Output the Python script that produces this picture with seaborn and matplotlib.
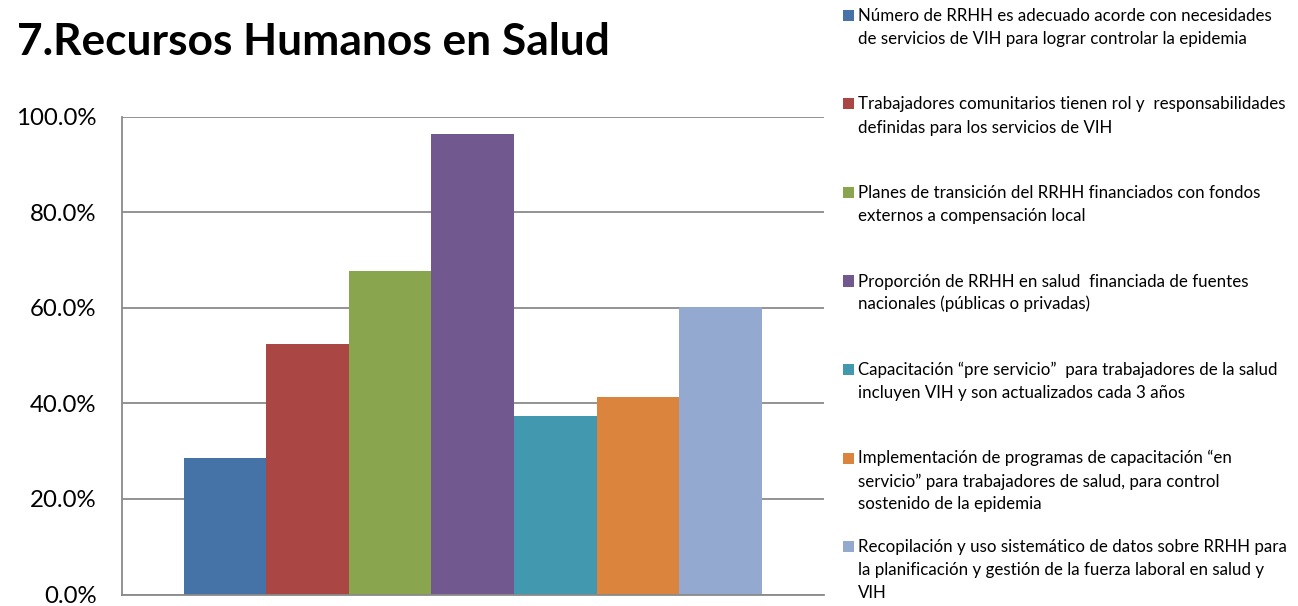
import numpy as np
import pandas as pd
import matplotlib
matplotlib.use('Agg')
import matplotlib.pyplot as plt
from matplotlib.patches import Rectangle
from matplotlib.ticker import FuncFormatter
import seaborn as sns

# ------------------------------------------------------------------
# Datos
# ------------------------------------------------------------------
titulo = "7.Recursos Humanos en Salud"

indicadores = [
    "Número de RRHH es adecuado acorde con necesidades\nde servicios de VIH para lograr controlar la epidemia",
    "Trabajadores comunitarios tienen rol y  responsabilidades\ndefinidas para los servicios de VIH",
    "Planes de transición del RRHH financiados con fondos\nexternos a compensación local",
    "Proporción de RRHH en salud  financiada de fuentes\nnacionales (públicas o privadas)",
    "Capacitación “pre servicio”  para trabajadores de la salud\nincluyen VIH y son actualizados cada 3 años",
    "Implementación de programas de capacitación “en\nservicio” para trabajadores de salud, para control\nsostenido de la epidemia",
    "Recopilación y uso sistemático de datos sobre RRHH para\nla planificación y gestión de la fuerza laboral en salud y\nVIH",
]
valores = [0.286, 0.525, 0.677, 0.964, 0.374, 0.413, 0.602]
colores = ['#4572A7', '#AA4643', '#89A54E', '#71588F', '#4198AF', '#DB843D', '#93A9CF']
yticks = [0.0, 0.2, 0.4, 0.6, 0.8, 1.0]

df = pd.DataFrame({'grupo': [''] * len(valores),
                   'indicador': indicadores,
                   'valor': valores})

# ------------------------------------------------------------------
# Estilo
# ------------------------------------------------------------------
sns.set_style('white')
plt.rcParams['font.family'] = ['Lato', 'DejaVu Sans']

W, H = 1298, 606
fig = plt.figure(figsize=(W / 100, H / 100), dpi=100)
fig.patch.set_facecolor('white')

# ejes en pixeles -> fracciones
ax_l, ax_r, ax_t, ax_b = 121.7, 823.7, 116.7, 594.5
ax = fig.add_axes([ax_l / W, 1 - ax_b / H, (ax_r - ax_l) / W, (ax_b - ax_t) / H])

sns.barplot(data=df, x='grupo', y='valor', hue='indicador', hue_order=indicadores,
            palette=colores, saturation=1, width=0.823, legend=False, ax=ax,
            linewidth=0, errorbar=None)

ax.set_xlim(-0.5, 0.5)
ax.set_ylim(0, 1)
ax.set_yticks(yticks)
ax.yaxis.set_major_formatter(FuncFormatter(lambda v, p: f"{v * 100:.1f}%"))
ax.set_xticks([])
ax.set_xlabel('')
ax.set_ylabel('')
ax.tick_params(axis='y', length=0, pad=18, labelsize=17.3, labelcolor='black')

ax.grid(axis='y', color='#8A8A8A', linewidth=1.3)
ax.set_axisbelow(True)
for s in ['top', 'right']:
    ax.spines[s].set_visible(False)
for s in ['left', 'bottom']:
    ax.spines[s].set_color('#8A8A8A')
    ax.spines[s].set_linewidth(1.3)

# título
fig.text(17 / W, 1 - 55 / H, titulo, fontsize=31.9, fontweight='bold',
         va='baseline', ha='left', color='black')

# leyenda manual (cuadro alineado con la primera línea)
paso = 88.5
alto_linea = 23
for i, (lab, col) in enumerate(zip(indicadores, colores)):
    top = 10 + i * paso
    fig.patches.append(Rectangle((843 / W, 1 - (top + 11) / H), 11 / W, 11 / H,
                                 transform=fig.transFigure, facecolor=col,
                                 edgecolor='none'))
    for k, linea in enumerate(lab.split('\n')):
        fig.text(858 / W, 1 - (top + 11 + k * alto_linea) / H, linea,
                 fontsize=12.2, va='baseline', ha='left', color='black')

plt.savefig('out.png', dpi=100)
plt.close()
